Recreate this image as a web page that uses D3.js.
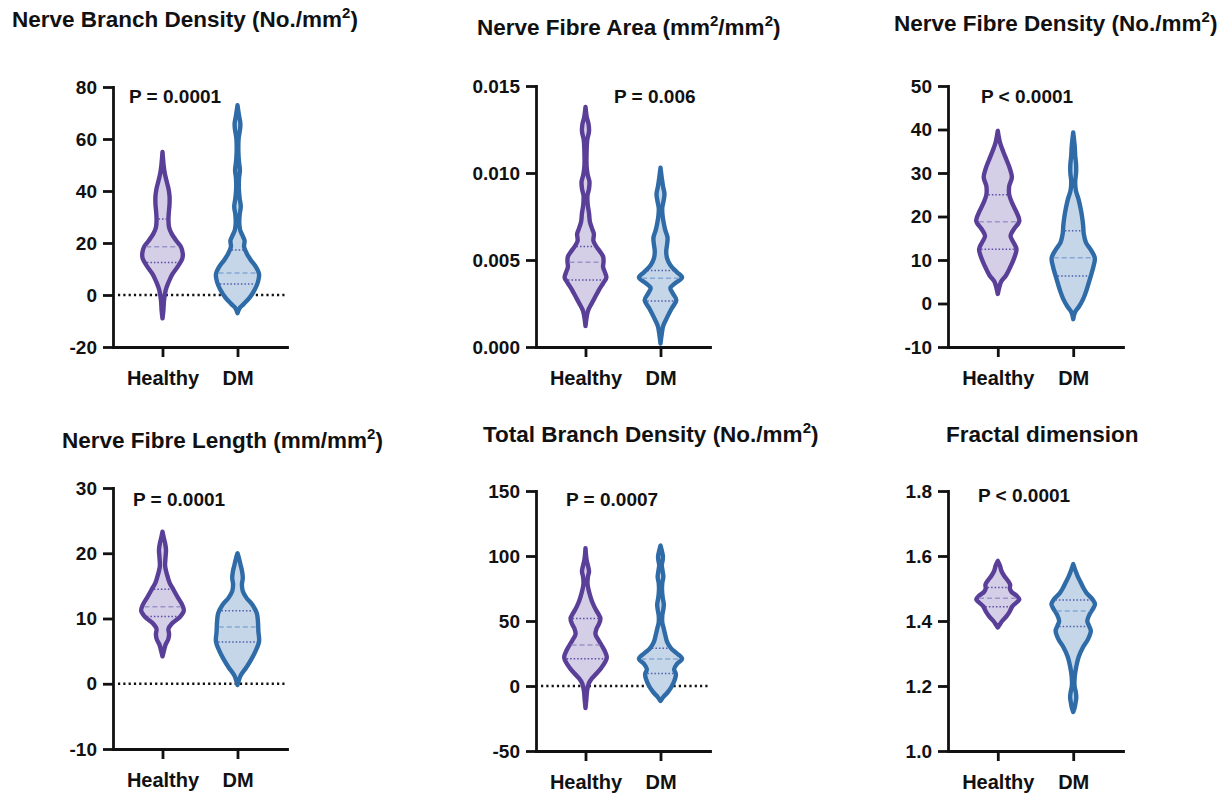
<!DOCTYPE html>
<html>
<head>
<meta charset="utf-8">
<script src="https://cdn.jsdelivr.net/npm/d3@7"></script>
<style>
  body { margin: 0; background: #fff; }
  svg text { font-family: "Liberation Sans", Arial, Helvetica, sans-serif; font-weight: bold; fill: #111; }
</style>
</head>
<body>
<div id="chart"></div>
<script>
// categories
const groups = ['Healthy', 'DM'];

// panel titles, odd pieces are superscripts
const titles = [
    ['Nerve Branch Density (No./mm', '2', ')'],
    ['Nerve Fibre Area (mm', '2', '/mm', '2', ')'],
    ['Nerve Fibre Density (No./mm', '2', ')'],
    ['Nerve Fibre Length (mm/mm', '2', ')'],
    ['Total Branch Density (No./mm', '2', ')'],
    ['Fractal dimension']
];
const pValues = ['P = 0.0001', 'P = 0.006', 'P < 0.0001', 'P = 0.0001', 'P = 0.0007', 'P < 0.0001'];

// y ticks per panel
const nbdTicks = [-20, 0, 20, 40, 60, 80];
const nfaTicks = [0, 0.005, 0.010, 0.015];
const nfdTicks = [-10, 0, 10, 20, 30, 40, 50];
const nflTicks = [-10, 0, 10, 20, 30];
const tbdTicks = [-50, 0, 50, 100, 150];
const fdTicks = [1.0, 1.2, 1.4, 1.6, 1.8];

// violin outlines: [value, relative density]
const nbdHealthy = [[-9,0],[-6,0.04],[-2,0.07],[2,0.15],[5,0.28],[8,0.45],[11,0.7],[14,0.9],[16,0.92],[18.5,0.84],[21,0.62],[23.5,0.42],[26,0.3],[29,0.27],[32,0.29],[35,0.32],[38,0.32],[41,0.27],[44,0.18],[47,0.1],[50,0.05],[55,0]];
const nbdDM = [[-7,0],[-5,0.1],[-3.5,0.28],[-1,0.55],[2,0.78],[5,0.93],[8,0.98],[11,0.82],[13.5,0.6],[16,0.42],[18.5,0.3],[21,0.32],[23,0.22],[25,0.12],[28,0.08],[31,0.1],[34,0.15],[37,0.1],[41,0.06],[45,0.07],[48,0.11],[51,0.07],[55,0.04],[60,0.05],[64,0.12],[66,0.13],[69,0.07],[73,0]];
const nfaHealthy = [[0.0012,0],[0.0017,0.05],[0.0021,0.12],[0.0025,0.28],[0.0029,0.45],[0.0033,0.62],[0.0037,0.82],[0.004,0.95],[0.0043,0.88],[0.0046,0.8],[0.0049,0.82],[0.0052,0.8],[0.0055,0.65],[0.0058,0.48],[0.0061,0.36],[0.0065,0.38],[0.0068,0.3],[0.0072,0.2],[0.0077,0.16],[0.0082,0.1],[0.0087,0.09],[0.0091,0.16],[0.0095,0.18],[0.0099,0.1],[0.0104,0.05],[0.0112,0.05],[0.0119,0.08],[0.0124,0.16],[0.0128,0.14],[0.0132,0.06],[0.0138,0]];
const nfaDM = [[0.0002,0],[0.0007,0.05],[0.0012,0.12],[0.0017,0.3],[0.0022,0.5],[0.0027,0.72],[0.0031,0.55],[0.0034,0.45],[0.0037,0.7],[0.004,0.98],[0.0043,0.75],[0.0047,0.45],[0.0051,0.3],[0.0055,0.26],[0.0059,0.3],[0.0063,0.32],[0.0067,0.22],[0.0071,0.15],[0.0076,0.09],[0.008,0.08],[0.0084,0.14],[0.0088,0.18],[0.0092,0.12],[0.0097,0.06],[0.0103,0]];
const nfdHealthy = [[2.2,0],[3.5,0.06],[5,0.15],[6.5,0.38],[8.5,0.58],[10.5,0.75],[12.5,0.85],[14,0.72],[15.5,0.58],[17,0.72],[19,0.98],[21,0.85],[23,0.66],[25,0.52],[27,0.52],[29,0.64],[31,0.55],[33,0.4],[35,0.24],[37,0.1],[39.7,0]];
const nfdDM = [[-3.6,0],[-2,0.08],[-0.8,0.25],[1,0.45],[3,0.6],[6,0.78],[8.5,0.92],[10.5,0.98],[12.5,0.78],[14,0.58],[16,0.48],[18,0.45],[20,0.4],[22,0.33],[24,0.24],[26,0.12],[28,0.09],[30,0.13],[32,0.13],[34,0.09],[36,0.07],[39.3,0]];
const nflHealthy = [[4.2,0],[5,0.06],[6,0.14],[6.8,0.26],[7.6,0.3],[8.4,0.27],[9.2,0.42],[10.2,0.78],[11.2,0.97],[12.2,0.88],[13.2,0.7],[14.4,0.5],[15.5,0.32],[16.8,0.2],[18,0.12],[19.5,0.14],[20.5,0.16],[21.5,0.12],[22.5,0.05],[23.3,0]];
const nflDM = [[-0.2,0],[0.5,0.06],[1.3,0.15],[2.5,0.4],[3.7,0.62],[5,0.82],[6.5,0.98],[8,0.95],[9.5,0.93],[10.8,0.88],[12,0.7],[13.2,0.4],[14.2,0.24],[15.2,0.2],[16.2,0.24],[17.2,0.21],[18.2,0.14],[19.2,0.07],[20,0]];
const tbdHealthy = [[-17,0],[-10,0.04],[-4,0.07],[2,0.15],[6,0.3],[10,0.52],[14,0.72],[18,0.88],[22,0.97],[26,0.9],[30,0.78],[35,0.6],[40,0.45],[44,0.5],[48,0.62],[52,0.68],[55,0.6],[59,0.46],[64,0.32],[69,0.22],[74,0.14],[79,0.09],[84,0.11],[88,0.16],[92,0.12],[97,0.05],[106,0]];
const tbdDM = [[-11.5,0],[-8,0.15],[-5,0.32],[0,0.52],[5,0.65],[9,0.7],[13,0.62],[17,0.75],[21,0.98],[25,0.75],[29,0.48],[34,0.3],[39,0.22],[44,0.15],[49,0.08],[54,0.08],[59,0.13],[63,0.15],[68,0.1],[74,0.07],[79,0.08],[84,0.13],[88,0.1],[93,0.06],[97,0.1],[100,0.11],[104,0.06],[108,0]];
const fdHealthy = [[1.38,0],[1.39,0.1],[1.4,0.2],[1.415,0.4],[1.43,0.55],[1.445,0.66],[1.46,0.9],[1.467,0.98],[1.478,0.85],[1.49,0.62],[1.5,0.55],[1.512,0.56],[1.525,0.45],[1.54,0.28],[1.555,0.16],[1.57,0.1],[1.585,0]];
const fdDM = [[1.12,0],[1.135,0.07],[1.15,0.11],[1.165,0.14],[1.18,0.12],[1.2,0.06],[1.23,0.07],[1.26,0.14],[1.29,0.25],[1.32,0.45],[1.345,0.68],[1.37,0.8],[1.385,0.72],[1.4,0.64],[1.42,0.74],[1.44,0.92],[1.452,0.99],[1.465,0.9],[1.485,0.62],[1.5,0.48],[1.516,0.36],[1.535,0.22],[1.55,0.13],[1.575,0]];

// quartiles [Q1, median, Q3] for Healthy, DM
const nbdQuart = [[12.5, 18.6, 29.2], [4.2, 8.5, 17.3]];
const nfaQuart = [[0.00385, 0.00487, 0.00577], [0.00264, 0.00395, 0.00439]];
const nfdQuart = [[12.5, 18.8, 25], [6.3, 10.5, 16.7]];
const nflQuart = [[10.3, 11.8, 14.5], [6.4, 8.7, 11.2]];
const tbdQuart = [[21, 31.5, 52], [9.7, 20.8, 29]];
const fdQuart = [[1.444, 1.47, 1.503], [1.383, 1.431, 1.465]];

const panels = [
    { ticks: nbdTicks, fmt: d => String(d), violins: [nbdHealthy, nbdDM], quart: nbdQuart, zero: true },
    { ticks: nfaTicks, fmt: d => d.toFixed(3), violins: [nfaHealthy, nfaDM], quart: nfaQuart, zero: false },
    { ticks: nfdTicks, fmt: d => String(d), violins: [nfdHealthy, nfdDM], quart: nfdQuart, zero: false },
    { ticks: nflTicks, fmt: d => String(d), violins: [nflHealthy, nflDM], quart: nflQuart, zero: true },
    { ticks: tbdTicks, fmt: d => String(d), violins: [tbdHealthy, tbdDM], quart: tbdQuart, zero: true },
    { ticks: fdTicks, fmt: d => d.toFixed(1), violins: [fdHealthy, fdDM], quart: fdQuart, zero: false }
];

// layout (pixels)
const frames = [
    { left: 113, right: 287, top: 87, bottom: 347, title: [12, 27], p: [129, 103] },
    { left: 536, right: 710, top: 86, bottom: 347, title: [477, 35], p: [614, 103] },
    { left: 948, right: 1123, top: 86, bottom: 347, title: [894, 31], p: [981, 103] },
    { left: 113, right: 287, top: 488, bottom: 749, title: [62, 448], p: [133, 506] },
    { left: 536, right: 710, top: 491, bottom: 751, title: [483, 442], p: [566, 506] },
    { left: 948, right: 1123, top: 491, bottom: 751, title: [946, 442], p: [978, 502] }
];

const strokeColors = ['#5a3f98', '#2f6ba7'];
const fillColors = ['#d4cee6', '#c5d6e9'];
const quartColors = ['#5c4ea6', '#4e5fae'];
const medianColors = ['#9c95cb', '#86a8d6'];

const svg = d3.select('#chart').append('svg')
    .attr('width', 1231)
    .attr('height', 793);

const halfWidth = d3.scaleLinear().domain([0, 1]).range([0, 22]);

function densityAt(profile, v) {
    for (let i = 1; i < profile.length; i++) {
        const [v0, d0] = profile[i - 1];
        const [v1, d1] = profile[i];
        if (v >= v0 && v <= v1) return d0 + (d1 - d0) * (v - v0) / (v1 - v0);
    }
    return 0;
}

panels.forEach((panel, i) => {
    const f = frames[i];
    const g = svg.append('g');

    const y = d3.scaleLinear()
        .domain(d3.extent(panel.ticks))
        .range([f.bottom, f.top]);

    const x = d3.scalePoint()
        .domain(groups)
        .range([f.left, f.right])
        .padding(0.66);

    // title with superscripts
    const t = g.append('text')
        .attr('x', f.title[0])
        .attr('y', f.title[1])
        .style('font-size', '22.5px');
    titles[i].forEach((part, k) => {
        if (k % 2 === 1) {
            t.append('tspan').attr('dy', -9).style('font-size', '15px').text(part);
        } else {
            t.append('tspan').attr('dy', k > 0 ? 9 : 0).text(part);
        }
    });

    // zero reference line
    if (panel.zero) {
        g.append('line')
            .attr('x1', f.left + 5)
            .attr('x2', f.right)
            .attr('y1', y(0))
            .attr('y2', y(0))
            .attr('stroke', '#111')
            .attr('stroke-width', 2.5)
            .attr('stroke-dasharray', '2.2,3.1');
    }

    // violins
    panel.violins.forEach((profile, j) => {
        const cx = x(groups[j]);
        const area = d3.area()
            .curve(d3.curveCatmullRom.alpha(0.5))
            .y(d => y(d[0]))
            .x0(d => cx - halfWidth(d[1]))
            .x1(d => cx + halfWidth(d[1]));

        g.append('path')
            .datum(profile)
            .attr('d', area)
            .attr('fill', fillColors[j])
            .attr('stroke', strokeColors[j])
            .attr('stroke-width', 4.4)
            .attr('stroke-linejoin', 'round');

        panel.quart[j].forEach((q, k) => {
            const hw = Math.max(0, halfWidth(densityAt(profile, q)) - 2);
            g.append('line')
                .attr('x1', cx - hw)
                .attr('x2', cx + hw)
                .attr('y1', y(q))
                .attr('y2', y(q))
                .attr('stroke', k === 1 ? medianColors[j] : quartColors[j])
                .attr('stroke-width', 1.5)
                .attr('stroke-dasharray', k === 1 ? '5,3' : '1.5,2');
        });
    });

    // axes
    const yAxis = g.append('g')
        .attr('transform', `translate(${f.left},0)`)
        .call(d3.axisLeft(y).tickValues(panel.ticks).tickFormat(panel.fmt).tickSize(10).tickPadding(6).tickSizeOuter(0));

    const xAxis = g.append('g')
        .attr('transform', `translate(0,${f.bottom})`)
        .call(d3.axisBottom(x).tickSize(10).tickPadding(14).tickSizeOuter(0));

    [yAxis, xAxis].forEach(a => {
        a.selectAll('path, line').attr('stroke', '#111').attr('stroke-width', 2.8);
        a.select('.domain').attr('stroke-linecap', 'square');
    });
    yAxis.selectAll('text').style('font-size', '19px').attr('fill', '#111');
    xAxis.selectAll('text').style('font-size', '20px').attr('fill', '#111');

    // p value
    g.append('text')
        .attr('x', f.p[0])
        .attr('y', f.p[1])
        .style('font-size', '19px')
        .text(pValues[i]);
});
</script>
</body>
</html>
